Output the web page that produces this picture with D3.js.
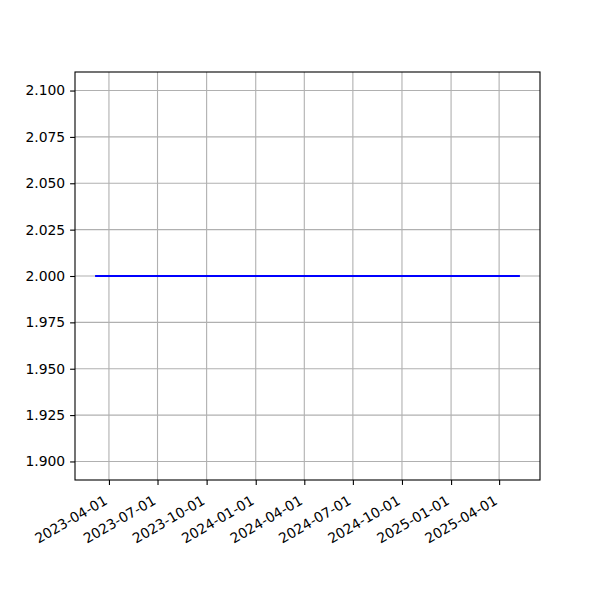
<!DOCTYPE html>
<html><head><meta charset="utf-8">
<script src="https://cdn.jsdelivr.net/npm/d3@7"></script>
<style>body{margin:0;background:#fff}svg{display:block}text{font-family:"DejaVu Sans",sans-serif}</style>
</head><body><svg id="c" width="600" height="600"></svg>
<script>
const dates = ["2023-03-08","2023-06-01","2023-09-01","2023-12-01","2024-03-01","2024-06-01","2024-09-01","2024-12-01","2025-03-01","2025-05-08"];
const values = [2,2,2,2,2,2,2,2,2,2];
const xTickLabels = ["2023-04-01","2023-07-01","2023-10-01","2024-01-01","2024-04-01","2024-07-01","2024-10-01","2025-01-01","2025-04-01"];
const yTickLabels = ["1.900","1.925","1.950","1.975","2.000","2.025","2.050","2.075","2.100"];

const svg = d3.select("#c");
const L=75, R=540, T=72, B=480;
const parse = d3.utcParse("%Y-%m-%d");
const xd = dates.map(parse);
const x0 = d3.min(xd), x1 = d3.max(xd);
const span = x1 - x0;
const x = d3.scaleUtc().domain([new Date(+x0 - span*0.05), new Date(+x1 + span*0.05)]).range([L,R]);
const y = d3.scaleLinear().domain([1.89,2.11]).range([B,T]);
const fs = 13.9;

const xt = xTickLabels.map(parse);
const yt = yTickLabels.map(Number);

// grid
svg.append("g").selectAll("line").data(xt).join("line")
  .attr("x1",d=>x(d)).attr("x2",d=>x(d)).attr("y1",T).attr("y2",B)
  .attr("stroke","#b0b0b0").attr("stroke-width",1.1);
svg.append("g").selectAll("line").data(yt).join("line")
  .attr("x1",L).attr("x2",R).attr("y1",d=>y(d)).attr("y2",d=>y(d))
  .attr("stroke","#b0b0b0").attr("stroke-width",1.1);

// line
const line = d3.line().x((d,i)=>x(xd[i])).y(d=>y(d));
svg.append("path").datum(values).attr("d",line).attr("fill","none")
  .attr("stroke","#0000ff").attr("stroke-width",2.1).attr("stroke-linecap","square");

// axes
const xa = svg.append("g").attr("transform",`translate(0,${B})`)
  .call(d3.axisBottom(x).tickValues(xt).tickSize(4.9).tickPadding(4.9).tickFormat(d3.utcFormat("%Y-%m-%d")));
xa.select(".domain").remove();
xa.selectAll(".tick line").attr("stroke","#000").attr("stroke-width",1.1);
xa.selectAll(".tick text").attr("font-size",fs).attr("font-family","DejaVu Sans").attr("fill","#000")
  .attr("text-anchor","end").attr("dy","0.7em").attr("y",0)
  .attr("transform","translate(-6,15) rotate(-30)");

const ya = svg.append("g").attr("transform",`translate(${L},0)`)
  .call(d3.axisLeft(y).tickValues(yt).tickSize(4.9).tickPadding(4.9).tickFormat(d3.format(".3f")));
ya.select(".domain").remove();
ya.selectAll(".tick line").attr("stroke","#000").attr("stroke-width",1.1);
ya.selectAll(".tick text").attr("font-size",fs).attr("font-family","DejaVu Sans").attr("fill","#000");

svg.append("rect").attr("x",L).attr("y",T).attr("width",R-L).attr("height",B-T)
  .attr("fill","none").attr("stroke","#000").attr("stroke-width",1.1);
</script></body></html>
